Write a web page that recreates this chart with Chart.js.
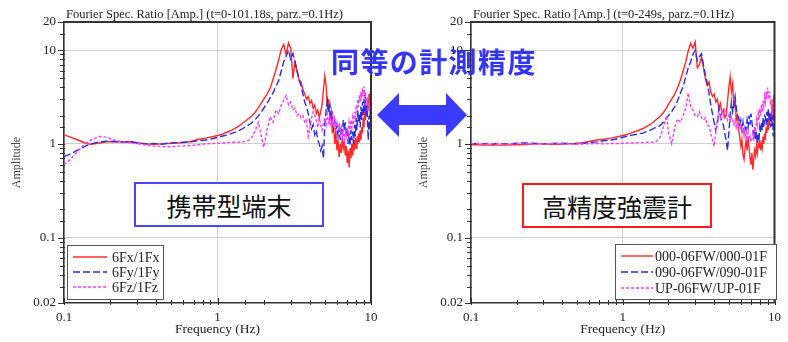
<!DOCTYPE html>
<html lang="ja">
<head>
<meta charset="utf-8">
<title>Fourier Spectral Ratio</title>
<script src="https://cdn.jsdelivr.net/npm/chart.js@4/dist/chart.umd.min.js"></script>
<style>
  html, body { margin: 0; padding: 0; background: #fff; }
  #wrap { position: relative; width: 788px; height: 342px; overflow: hidden; background: #fff; }
  canvas { position: absolute; top: 0; }
  #phoneChart { left: 0; width: 390px; height: 342px; }
  #stationChart { left: 407px; width: 381px; height: 342px; }
  #headline {
    position: absolute; left: 331px; top: 47px; z-index: 3;
    font-family: 'Noto Sans CJK JP', 'Noto Sans', sans-serif; font-weight: 700;
    font-size: 28px; line-height: 28px; letter-spacing: 1.4px;
    color: #3434ff; white-space: nowrap;
  }
  #arrow { position: absolute; left: 0; top: 0; z-index: 3; }
  .tag {
    position: absolute; z-index: 3; box-sizing: border-box;
    width: 190px; height: 45px; border: 2px solid; background: #fff;
    font-family: 'Noto Sans CJK JP', 'Noto Sans', sans-serif; font-size: 25px;
    line-height: 43px; text-align: center; color: #111; white-space: nowrap;
  }
  #tagPhone { left: 134px; top: 182px; border-color: #4646ff; }
  #tagStation { left: 522px; top: 183px; border-color: #ff1a1a; }
</style>
</head>
<body>
<div id="wrap">
  <canvas id="phoneChart" width="390" height="342"></canvas>
  <canvas id="stationChart" width="381" height="342"></canvas>
  <div id="headline">同等の計測精度</div>
  <svg id="arrow" width="788" height="342" viewBox="0 0 788 342">
    <polygon points="377,115 399,93 399,105 446,105 446,93 467,115 446,137 446,125 399,125 399,137" fill="#3b3bff"/>
  </svg>
  <div class="tag" id="tagPhone">携帯型端末</div>
  <div class="tag" id="tagStation">高精度強震計</div>
</div>
<script>
// Frequency samples (Hz), shared by every spectral-ratio series
const freqHz = [
  0.10,0.11,0.12,0.13,0.14,0.15,0.17,0.19,0.21,0.24,0.27,0.30,0.34,0.38,0.43,0.48,
  0.54,0.60,0.67,0.75,0.84,0.94,1.05,1.15,1.25,1.35,1.45,1.55,1.65,1.75,1.85,1.95,
  2.0,2.1,2.2,2.3,2.4,2.5,2.6,2.7,2.8,2.9,
  3.0,3.1,3.2,3.3,3.4,3.5,3.6,3.7,3.8,3.9,
  4.0,4.1,4.2,4.3,4.4,4.5,4.6,4.7,4.8,4.9,
  5.0,5.1,5.2,5.3,5.4,5.5,5.6,5.7,5.8,5.9,
  6.0,6.1,6.2,6.3,6.4,6.5,6.6,6.7,6.8,6.9,
  7.0,7.1,7.2,7.3,7.4,7.5,7.6,7.7,7.8,7.9,
  8.0,8.1,8.2,8.3,8.4,8.5,8.6,8.7,8.8,8.9,
  9.0,9.1,9.2,9.3,9.4,9.5,9.6,9.7,9.8,9.9,
  10.0
];

// Portable terminal: 6F / 1F amplitude ratios
const phoneX = [
  1.25,1.18,1.12,1.06,1.01,0.99,1.02,1.05,1.06,1.05,1.06,1.03,1.00,0.99,1.00,1.01,
  1.02,1.03,1.06,1.12,1.15,1.20,1.25,1.33,1.41,1.52,1.65,1.80,1.95,2.15,2.45,2.80,
  3.0,3.4,3.9,4.9,6.1,7.8,10.2,11.5,9.0,12.0,
  10.5,5.0,7.5,6.0,4.8,4.6,3.8,3.4,3.0,3.2,
  2.7,2.9,2.4,2.6,2.1,2.3,1.9,2.2,2.6,3.8,
  5.3,4.2,2.3,3.0,1.8,2.2,1.3,1.6,1.0,1.3,
  0.85,1.1,0.72,1.0,0.80,1.2,0.9,1.05,0.75,0.95,
  0.62,0.85,0.56,0.9,0.7,1.0,0.75,1.1,0.85,1.15,
  0.9,1.2,1.0,1.3,1.05,1.4,1.1,1.5,1.3,1.9,
  1.5,2.2,1.8,2.6,2.0,3.0,2.4,3.4,2.6,3.6,
  3.0
];
const phoneY = [
  0.73,0.78,0.84,0.90,0.96,1.00,1.05,1.07,1.06,1.04,1.05,1.02,1.00,1.01,0.99,1.02,
  1.03,1.04,1.05,1.08,1.10,1.14,1.20,1.24,1.30,1.36,1.45,1.55,1.65,1.80,2.00,2.25,
  2.4,2.7,3.1,3.5,4.1,4.7,6.0,7.5,8.6,10.0,
  8.0,9.2,7.5,6.0,4.8,4.2,3.4,2.8,2.5,2.1,
  1.7,1.45,1.6,1.25,1.4,1.1,1.0,0.85,0.95,0.7,
  1.6,2.3,2.9,2.2,2.6,1.9,2.1,1.5,1.8,1.3,
  1.6,1.2,1.45,1.1,1.5,1.3,1.8,1.4,1.7,1.2,
  1.5,1.0,1.3,0.95,1.4,1.1,1.35,1.0,1.6,1.2,
  1.9,1.4,2.3,1.7,2.1,1.5,2.5,1.8,2.8,2.0,
  3.0,2.2,3.2,2.0,2.7,1.6,1.1,2.0,1.4,2.4,
  1.8
];
const phoneZ = [
  0.60,0.68,0.80,0.92,1.02,1.10,1.20,1.18,1.10,1.05,1.02,1.00,0.97,0.95,0.94,0.93,
  0.94,0.95,0.96,0.98,1.00,1.01,1.02,1.03,1.04,1.04,1.05,1.07,1.12,1.35,1.70,1.10,
  0.92,1.4,1.95,1.7,2.3,2.1,2.6,2.9,3.3,2.6,
  2.8,2.3,2.4,2.0,2.1,1.9,2.0,1.7,1.8,1.2,
  1.5,1.9,2.2,2.0,1.8,1.5,1.9,1.6,1.4,1.7,
  1.9,1.6,2.1,1.7,1.9,1.5,2.0,1.6,1.8,1.4,
  1.7,1.5,1.6,1.3,1.5,1.2,1.4,1.1,1.35,1.2,
  1.5,1.3,1.7,1.4,1.8,1.5,1.9,1.6,2.2,1.8,
  2.6,2.2,3.0,2.5,3.3,2.8,3.6,3.0,3.9,3.2,
  4.1,3.3,3.6,2.6,2.5,3.2,2.2,2.8,2.0,3.0,
  2.4
];

// Strong-motion seismograph: 06FW / 01F amplitude ratios
const stationNS = [
  0.98,0.98,0.97,0.97,0.98,0.97,0.97,0.98,0.98,0.99,1.00,1.00,0.99,0.99,1.00,1.01,
  1.03,1.06,1.10,1.12,1.15,1.20,1.25,1.32,1.38,1.45,1.55,1.65,1.80,1.95,2.15,2.45,
  2.65,3.0,3.4,4.0,4.8,6.0,7.5,9.8,11.8,10.5,
  12.3,6.5,7.0,8.5,6.5,5.0,4.2,4.6,3.6,3.2,
  3.4,2.8,3.0,2.4,2.7,2.1,2.3,1.9,2.0,2.8,
  4.0,5.2,3.6,4.4,2.5,2.9,1.8,2.0,1.4,1.2,
  0.95,1.1,0.75,0.68,0.9,1.1,0.85,1.2,0.9,0.7,
  0.6,0.8,0.53,0.7,0.85,0.75,0.95,0.8,1.0,0.9,
  1.1,0.85,1.0,0.9,1.2,1.0,1.3,1.1,1.5,1.3,
  1.7,1.4,1.9,1.6,2.1,1.8,2.6,2.2,3.0,3.3,
  2.8
];
const stationEW = [
  1.00,1.01,1.00,1.01,1.00,1.01,1.00,1.01,1.02,1.02,1.01,1.00,1.01,1.02,1.01,1.00,
  1.01,1.03,1.05,1.08,1.10,1.14,1.20,1.24,1.27,1.30,1.36,1.42,1.50,1.55,1.70,1.90,
  2.0,2.2,2.5,2.9,3.5,4.1,5.2,6.5,7.5,9.0,
  10.0,7.8,8.5,9.2,7.0,5.5,4.5,3.5,2.6,2.1,
  1.7,1.4,1.6,2.4,2.0,1.7,1.6,1.3,1.1,0.85,
  1.3,2.0,2.8,2.2,2.6,3.2,2.4,2.0,1.95,1.6,
  1.8,1.4,1.7,1.3,1.5,1.4,1.8,1.5,2.0,1.6,
  2.1,1.7,1.4,1.2,1.5,1.1,1.35,1.0,1.2,1.1,
  1.5,1.3,1.7,1.4,1.9,1.5,2.0,1.95,1.6,2.2,
  1.7,2.4,1.8,2.2,1.5,1.9,1.55,2.3,1.2,2.6,
  1.9
];
const stationUD = [
  1.00,1.01,0.99,1.00,1.01,1.00,0.99,1.00,1.01,1.00,0.99,1.00,1.01,1.00,1.00,0.99,
  1.00,1.00,1.01,1.00,1.01,1.01,1.02,1.02,1.03,1.03,1.04,1.04,1.05,1.15,1.50,2.00,
  1.3,1.0,1.5,1.85,1.7,2.0,2.4,3.5,2.5,2.3,
  2.0,1.95,2.2,1.9,1.8,1.9,1.6,1.55,1.3,1.1,
  0.94,1.3,1.8,2.1,1.9,2.2,2.0,2.3,2.1,1.8,
  2.0,1.7,1.9,1.8,1.6,1.8,1.5,1.7,1.5,1.55,
  1.4,1.5,1.3,1.45,1.2,1.35,1.15,1.3,1.1,1.2,
  1.05,1.12,1.3,1.2,1.5,1.35,1.8,1.6,2.1,1.8,
  2.4,2.0,2.6,2.2,2.9,2.5,3.2,2.8,3.6,3.0,
  4.0,3.4,3.0,3.6,2.6,3.0,2.2,2.1,2.6,2.0,
  2.4
];

const phoneLabels = ['6Fx/1Fx', '6Fy/1Fy', '6Fz/1Fz'];
const stationLabels = ['000-06FW/000-01F', '090-06FW/090-01F', 'UP-06FW/UP-01F'];
const panelTitles = [
  'Fourier Spec. Ratio [Amp.] (t=0-101.18s, parz.=0.1Hz)',
  'Fourier Spec. Ratio [Amp.] (t=0-249s, parz.=0.1Hz)'
];
const freqTickLabels = ['0.1', '1', '10'];
const ampTickLabels = ['0.02', '0.1', '1', '10', '20'];

// Series styling: horizontal = solid red, transverse = dashed blue, vertical = short-dash magenta
const seriesColors = ['#ff2b2b', '#2b2be0', '#ff3dff'];
const seriesDash = [[], [7, 3], [3, 2]];

const serif = "'Liberation Serif', 'Times New Roman', serif";

function isDecade(v) {
  const l = Math.log10(v);
  return Math.abs(l - Math.round(l)) < 1e-9;
}
function labelFor(v, list) {
  const hit = list.find(s => Math.abs(parseFloat(s) / v - 1) < 1e-6);
  return hit === undefined ? '' : hit;
}

// Plot frame (top/right edges) plus the tick marks on both log axes
const framePlugin = {
  id: 'frame',
  afterDatasetsDraw(chart) {
    const { ctx, chartArea: a } = chart;
    const xs = chart.scales.x;
    const ys = chart.scales.y;
    ctx.save();
    ctx.strokeStyle = '#333';
    ctx.lineWidth = 2;
    ctx.beginPath();
    ctx.moveTo(a.left, a.top);
    ctx.lineTo(a.right, a.top);
    ctx.lineTo(a.right, a.bottom);
    ctx.stroke();
    ctx.lineWidth = 1;
    xs.ticks.forEach(t => {
      const px = Math.round(xs.getPixelForValue(t.value)) + 0.5;
      ctx.beginPath();
      ctx.moveTo(px, a.bottom - (isDecade(t.value) ? 5 : 3));
      ctx.lineTo(px, a.bottom + 2);
      ctx.stroke();
    });
    ys.ticks.forEach(t => {
      const py = Math.round(ys.getPixelForValue(t.value)) + 0.5;
      const major = labelFor(t.value, ampTickLabels) !== '';
      ctx.beginPath();
      ctx.moveTo(a.left - (major ? 6 : 4), py);
      ctx.lineTo(a.left + 1, py);
      ctx.stroke();
    });
    ctx.restore();
  }
};

// Panel heading written just above the plot frame
const panelTitlePlugin = {
  id: 'panelTitle',
  afterDraw(chart, args, opts) {
    const { ctx, chartArea: a } = chart;
    ctx.save();
    ctx.font = opts.size + 'px ' + serif;
    ctx.fillStyle = '#222';
    ctx.textAlign = 'left';
    ctx.textBaseline = 'middle';
    ctx.fillText(opts.text, a.left + 2, a.top - 7);
    ctx.restore();
  }
};

// Boxed legend placed inside the plot area
const boxLegendPlugin = {
  id: 'boxLegend',
  afterDraw(chart, args, o) {
    const { ctx } = chart;
    ctx.save();
    ctx.fillStyle = '#fff';
    ctx.fillRect(o.x, o.y, o.w, o.h);
    ctx.strokeStyle = '#555';
    ctx.lineWidth = 1;
    ctx.strokeRect(o.x + 0.5, o.y + 0.5, o.w, o.h);
    ctx.font = '14px ' + serif;
    ctx.textAlign = 'left';
    ctx.textBaseline = 'middle';
    chart.data.datasets.forEach((ds, i) => {
      const y = o.y + o.row0 + i * o.rowGap;
      ctx.strokeStyle = ds.borderColor;
      ctx.lineWidth = ds.borderWidth;
      ctx.setLineDash(ds.borderDash || []);
      ctx.beginPath();
      ctx.moveTo(o.x + 6, y);
      ctx.lineTo(o.x + 6 + o.sample, y);
      ctx.stroke();
      ctx.setLineDash([]);
      ctx.fillStyle = '#222';
      ctx.fillText(ds.label, o.x + o.textX, y + 1);
    });
    ctx.restore();
  }
};

function makePanel(canvasId, series, labels, title, legendBox, padRight) {
  const datasets = series.map((amp, i) => ({
    label: labels[i],
    data: freqHz.map((f, k) => ({ x: f, y: amp[k] })),
    borderColor: seriesColors[i],
    borderWidth: 1.4,
    borderDash: seriesDash[i],
    pointRadius: 0,
    fill: false,
    tension: 0,
    order: 3 - i
  }));
  const gridColor = c => (c.tick && isDecade(c.tick.value)) ? '#cfcfcf' : 'rgba(0,0,0,0)';
  return new Chart(document.getElementById(canvasId), {
    type: 'line',
    data: { datasets },
    plugins: [framePlugin, panelTitlePlugin, boxLegendPlugin],
    options: {
      responsive: false,
      animation: false,
      devicePixelRatio: 1,
      layout: { padding: { left: 0, right: padRight, top: 22, bottom: 0 } },
      plugins: {
        legend: { display: false },
        tooltip: { enabled: false },
        panelTitle: { text: title, size: 12.5 },
        boxLegend: legendBox
      },
      scales: {
        x: {
          type: 'logarithmic', min: 0.1, max: 10,
          afterFit(s) { s.height = 39; },
          border: { display: true, color: '#333', width: 1.5 },
          grid: { color: gridColor, lineWidth: 1, drawTicks: false },
          ticks: {
            autoSkip: false, maxRotation: 0, padding: 7, color: '#222',
            font: { family: serif, size: 13 },
            callback: v => labelFor(v, freqTickLabels)
          },
          title: {
            display: true, text: 'Frequency (Hz)', color: '#222',
            font: { family: serif, size: 13.5 }, padding: { top: 0, bottom: 4 }
          }
        },
        y: {
          type: 'logarithmic', min: 0.02, max: 20,
          afterFit(s) { s.width = 64; },
          border: { display: true, color: '#333', width: 1.5 },
          grid: { color: gridColor, lineWidth: 1, drawTicks: false },
          ticks: {
            autoSkip: false, padding: 8, color: '#222',
            font: { family: serif, size: 13 },
            callback: v => labelFor(v, ampTickLabels)
          },
          title: {
            display: true, text: 'Amplitude', color: '#444',
            font: { family: serif, size: 12 }, padding: { top: 10, bottom: 0 }
          }
        }
      }
    }
  });
}

makePanel('phoneChart', [phoneX, phoneY, phoneZ], phoneLabels, panelTitles[0],
  { x: 67, y: 245, w: 96, h: 54, row0: 12, rowGap: 15, sample: 34, textX: 45 }, 19);
makePanel('stationChart', [stationNS, stationEW, stationUD], stationLabels, panelTitles[1],
  { x: 208, y: 244, w: 161, h: 55, row0: 12, rowGap: 16, sample: 32, textX: 40 }, 9);
</script>
</body>
</html>
